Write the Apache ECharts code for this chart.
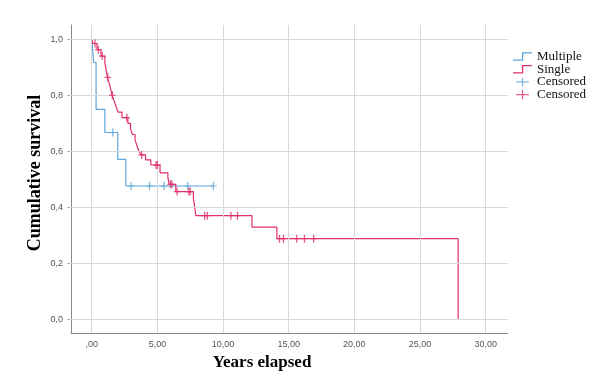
<!DOCTYPE html>
<html>
<head>
<meta charset="utf-8">
<script src="https://cdn.jsdelivr.net/npm/echarts@6/dist/echarts.min.js"></script>
<style>html,body{margin:0;padding:0;background:#fff}#c{width:609px;height:390px}</style>
</head>
<body>
<div id="c"></div>
<script>
// ---- data ----
const xTicks = [0, 5, 10, 15, 20, 25, 30];
const yTicks = [0, 0.2, 0.4, 0.6, 0.8, 1.0];
const multipleSteps = [[0,1],[0.15,0.917],[0.33,0.75],[1.0,0.667],[1.98,0.571],[2.6,0.476],[9.27,0.476]];
const singleSteps = [[0,1],[0.1,0.985],[0.4,0.963],[0.7,0.94],[1.0,0.915],[1.1,0.89],[1.2,0.864],[1.35,0.84],
  [1.45,0.82],[1.55,0.80],[1.7,0.78],[1.85,0.76],[2.0,0.74],[2.3,0.72],[2.75,0.70],[2.95,0.68],[3.1,0.66],
  [3.3,0.64],[3.45,0.62],[3.6,0.60],[3.75,0.587],[4.1,0.569],[4.5,0.551],[5.2,0.523],[5.8,0.505],[5.9,0.482],
  [6.4,0.456],[7.74,0.43],[7.85,0.40],[7.93,0.37],[12.2,0.329],[14.1,0.288],[27.9,0.0]];
const multipleCensored = [[1.6,0.667],[3.0,0.476],[4.4,0.476],[5.5,0.476],[7.3,0.476],[9.27,0.476]];
const singleCensored = [[0.25,0.985],[0.5,0.963],[0.8,0.94],[1.22,0.864],[1.57,0.80],[2.67,0.72],[3.8,0.587],
  [4.9,0.551],[5.0,0.551],[6.0,0.482],[6.1,0.482],[6.5,0.456],[7.4,0.456],[7.5,0.456],[8.6,0.37],[8.8,0.37],
  [10.6,0.37],[11.1,0.37],[14.3,0.288],[14.6,0.288],[15.6,0.288],[16.2,0.288],[16.9,0.288]];
const seriesNames = ['Multiple', 'Single', 'Censored', 'Censored '];

const BLUE = '#5fa6da', RED = '#e0306a';
const stepIcon = 'path://M0,7.6H9.4V0H20V1.4H10.8V9H0Z';
const plusIcon = 'path://M6.3,0H7.7V10H6.3ZM0,4.3H14V5.7H0Z';
const censorSym = 'path://M2.6,0H3.9V8H2.6ZM0,3.4H6.5V4.6H0Z';

const chart = echarts.init(document.getElementById('c'));
chart.setOption({
  backgroundColor: '#fff',
  animation: false,
  grid: { left: 71, top: 25, right: 101, bottom: 57 },
  xAxis: {
    type: 'value', min: -1.58, max: 31.7,
    axisLine: { show: true, onZero: false, lineStyle: { color: '#8a8a8a', width: 1 } },
    axisTick: { show: false },
    splitLine: { show: false },
    axisLabel: {
      customValues: xTicks, color: '#555', fontSize: 9, fontFamily: 'Liberation Sans, Arial', margin: 7,
      formatter: v => v === 0 ? ',00' : v.toFixed(2).replace('.', ',')
    }
  },
  yAxis: {
    type: 'value', min: -0.049, max: 1.051,
    axisLine: { show: true, onZero: false, lineStyle: { color: '#8a8a8a', width: 1 } },
    axisTick: { show: true, customValues: yTicks, length: 4, lineStyle: { color: '#bbb' } },
    splitLine: { show: false },
    axisLabel: {
      customValues: yTicks, color: '#555', fontSize: 9, fontFamily: 'Liberation Sans, Arial', margin: 8,
      formatter: v => v.toFixed(1).replace('.', ',')
    }
  },
  legend: {
    orient: 'vertical', left: 508, top: 45, itemWidth: 19, itemHeight: 9, itemGap: -0.3,
    textStyle: { fontFamily: 'Liberation Serif, Times New Roman, serif', fontSize: 13, color: '#111' },
    formatter: n => n.trim(),
    data: [
      { name: seriesNames[0], icon: stepIcon },
      { name: seriesNames[1], icon: stepIcon },
      { name: seriesNames[2], icon: plusIcon },
      { name: seriesNames[3], icon: plusIcon }
    ]
  },
  graphic: [
    { type: 'text', x: 35, y: 173, rotation: Math.PI / 2,
      style: { text: 'Cumulative survival', font: 'bold 18px "Liberation Serif", serif', fill: '#000', align: 'center', verticalAlign: 'middle' } },
    { type: 'text', x: 262, y: 363,
      style: { text: 'Years elapsed', font: 'bold 17px "Liberation Serif", serif', fill: '#000', align: 'center', verticalAlign: 'middle' } }
  ],
  series: [
    { type: 'line', name: 'grid', data: [], silent: true, z: 0,
      markLine: { silent: true, symbol: 'none', label: { show: false },
        lineStyle: { color: '#d9d9d9', type: 'solid', width: 1 },
        data: xTicks.map(v => ({ xAxis: v })).concat(yTicks.map(v => ({ yAxis: v }))) } },
    { type: 'line', name: seriesNames[0], step: 'end', data: multipleSteps, showSymbol: false, z: 3,
      lineStyle: { color: BLUE, width: 1.2 }, itemStyle: { color: BLUE } },
    { type: 'line', name: seriesNames[1], step: 'end', data: singleSteps, showSymbol: false, z: 4,
      lineStyle: { color: RED, width: 1.2 }, itemStyle: { color: RED } },
    { type: 'scatter', name: seriesNames[2], data: multipleCensored, symbol: censorSym, symbolSize: [6.5, 8], z: 5,
      itemStyle: { color: BLUE } },
    { type: 'scatter', name: seriesNames[3], data: singleCensored, symbol: censorSym, symbolSize: [6.5, 8], z: 6,
      itemStyle: { color: RED } }
  ]
});
</script>
</body>
</html>
